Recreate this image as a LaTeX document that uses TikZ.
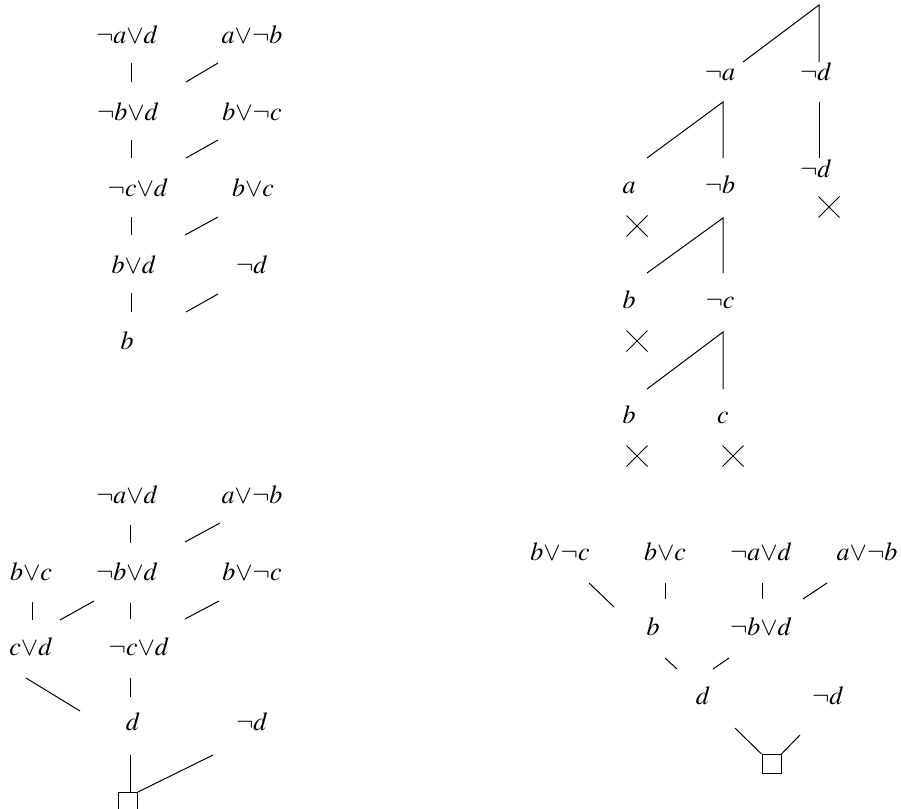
\documentclass[tikz,border=0pt]{standalone}
\usepackage{mathptmx}
\usetikzlibrary{calc,shapes.misc}

\begin{document}
\begin{tikzpicture}[
  x=.5pt, y=-.5pt,
  font=\fontsize{13}{15}\selectfont,
  formula/.style={inner sep=0pt, text height=9pt, text depth=0pt},
  link/.style={draw=black, line width=.5pt},
  closed/.style={cross out, draw=black, line width=.5pt, minimum size=10pt, inner sep=0pt},
  emptycl/.style={draw=black, line width=.5pt, minimum size=9.5pt, inner sep=0pt}
]
  \useasboundingbox (0,0) rectangle (901,809);

  % Linear refutation, top left.
  \node[formula] (tl1) at (127,34) {$\neg a{\vee}d$};
  \node[formula] (tl2) at (252,34) {$a{\vee}\neg b$};
  \node[formula] (tl3) at (128,111) {$\neg b{\vee}d$};
  \node[formula] (tl4) at (252,111) {$b{\vee}\neg c$};
  \node[formula] (tl5) at (138,187) {$\neg c{\vee}d$};
  \node[formula] (tl6) at (253,187) {$b{\vee}c$};
  \node[formula] (tl7) at (134,264) {$b{\vee}d$};
  \node[formula] (tl8) at (252,264) {$\neg d$};
  \node[formula] (tl9) at (127,340) {$b$};
  \draw[link] ($(tl1)+(4,29)$) -- ($(tl3)+(3,-29)$);
  \draw[link] ($(tl2)+(-34,29)$) -- ($(tl3)+(58,-29)$);
  \draw[link] ($(tl3)+(3,29)$) -- ($(tl5)+(-7,-29)$);
  \draw[link] ($(tl4)+(-34,29)$) -- ($(tl5)+(48,-29)$);
  \draw[link] ($(tl5)+(-7,30)$) -- ($(tl7)+(-3,-29)$);
  \draw[link] ($(tl6)+(-35,30)$) -- ($(tl7)+(51,-29)$);
  \draw[link] ($(tl7)+(-3,29)$) -- ($(tl9)+(4,-28)$);
  \draw[link] ($(tl8)+(-34,30)$) -- ($(tl9)+(59,-28)$);

  % Closed tableau, top right.
  \coordinate (root) at (819,5);
  \node[formula] (na) at (720,71) {$\neg a$};
  \node[formula] (nd1) at (816,71) {$\neg d$};
  \node[formula] (a) at (629,184) {$a$};
  \node[formula] (nb) at (720,184) {$\neg b$};
  \node[formula] (nd2) at (816,168) {$\neg d$};
  \node[formula] (b1) at (629,299) {$b$};
  \node[formula] (nc) at (720,299) {$\neg c$};
  \node[formula] (b2) at (629,414) {$b$};
  \node[formula] (c) at (723,414) {$c$};
  \draw[link] ($(na)+(23,-9)$) -- (root) -- ($(nd1)+(3,-9)$);
  \draw[link] ($(a)+(18,-26)$) -- ($(na)+(3,31)$) -- ($(nb)+(3,-26)$);
  \draw[link] ($(nd1)+(3,31)$) -- ($(nd2)+(3,-10)$);
  \draw[link] ($(b1)+(18,-26)$) -- ($(nb)+(3,34)$) -- ($(nc)+(3,-26)$);
  \draw[link] ($(b2)+(18,-25)$) -- ($(nc)+(3,33)$) -- ($(c)+(0,-25)$);
  \node[closed] (x1) at (829,207) {};
  \node[closed] (x2) at (637,226) {};
  \node[closed] (x3) at (637,341) {};
  \node[closed] (x4) at (637,456) {};
  \node[closed] (x5) at (733,456) {};

  % Resolution with reused clauses, bottom left.
  \node[formula] (bl1) at (127,494) {$\neg a{\vee}d$};
  \node[formula] (bl2) at (252,494) {$a{\vee}\neg b$};
  \node[formula] (bl3) at (31,571) {$b{\vee}c$};
  \node[formula] (bl4) at (127,571) {$\neg b{\vee}d$};
  \node[formula] (bl5) at (252,571) {$b{\vee}\neg c$};
  \node[formula] (bl6) at (31,646) {$c{\vee}d$};
  \node[formula] (bl7) at (139,646) {$\neg c{\vee}d$};
  \node[formula] (bl8) at (133,721) {$d$};
  \node[formula] (bl9) at (252,721) {$\neg d$};
  \node[emptycl] (box1) at (128,802) {};
  \draw[link] ($(bl1)+(3,31)$) -- ($(bl4)+(3,-28)$);
  \draw[link] ($(bl2)+(-32,29)$) -- ($(bl4)+(58,-29)$);
  \draw[link] ($(bl3)+(1,31)$) -- ($(bl6)+(1,-26)$);
  \draw[link] ($(bl4)+(-33,30)$) -- ($(bl6)+(29,-26)$);
  \draw[link] ($(bl4)+(3,32)$) -- ($(bl7)+(-9,-27)$);
  \draw[link] ($(bl5)+(-33,30)$) -- ($(bl7)+(46,-27)$);
  \draw[link] ($(bl6)+(-5,32)$) -- ($(bl8)+(-53,-10)$);
  \draw[link] ($(bl7)+(-9,32)$) -- ($(bl8)+(-3,-24)$);
  \draw[link] ($(bl8)+(-3,34)$) -- ($(box1.north)+(2,0)$);
  \draw[link] ($(bl9)+(-39,34)$) -- (box1.north east);

  % Tree refutation, bottom right.
  \node[formula] (br1) at (560,551) {$b{\vee}\neg c$};
  \node[formula] (br2) at (665,551) {$b{\vee}c$};
  \node[formula] (br3) at (761,551) {$\neg a{\vee}d$};
  \node[formula] (br4) at (867,551) {$a{\vee}\neg b$};
  \node[formula] (br5) at (653,626) {$b$};
  \node[formula] (br6) at (761,626) {$\neg b{\vee}d$};
  \node[formula] (br7) at (703,695) {$d$};
  \node[formula] (br8) at (828,695) {$\neg d$};
  \node[emptycl] (box2) at (771.5,764) {};
  \draw[link] ($(br1)+(29,32)$) -- ($(br5)+(-39,-19)$);
  \draw[link] ($(br2)+(0,32)$) -- ($(br5)+(12,-27)$);
  \draw[link] ($(br3)+(1,32)$) -- ($(br6)+(1,-27)$);
  \draw[link] ($(br4)+(-40,32)$) -- ($(br6)+(42,-27)$);
  \draw[link] ($(br5)+(12,32)$) -- ($(br7)+(-26,-26)$);
  \draw[link] ($(br6)+(-32,32)$) -- ($(br7)+(10,-26)$);
  \draw[link] ($(br7)+(32,33)$) -- (box2.north west);
  \draw[link] ($(br8)+(-28,40)$) -- (box2.north east);

\end{tikzpicture}
\end{document}
